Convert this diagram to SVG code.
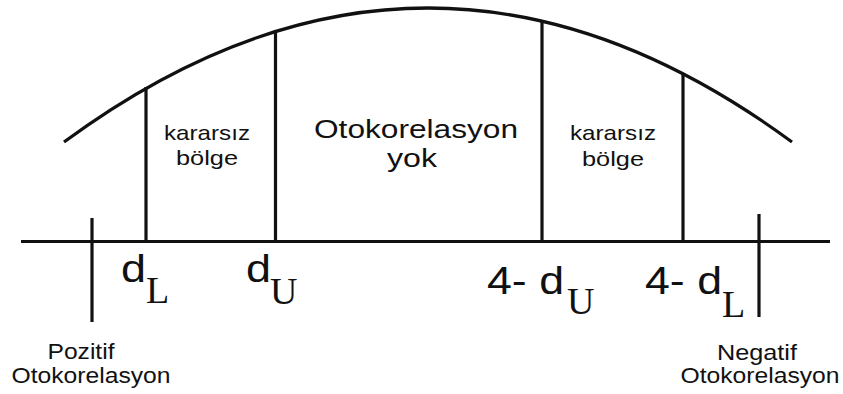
<svg xmlns="http://www.w3.org/2000/svg" width="843" height="394" viewBox="0 0 843 394">
<style>
.ln{stroke:#111;stroke-width:3.2;fill:none}
.s{font-family:"Liberation Sans",Arial,sans-serif;fill:#111}
.r{font-family:"Liberation Serif","Times New Roman",serif;fill:#111}
</style>
<rect width="843" height="394" fill="#fff"/>
<g id="connectors">
<path class="ln" d="M64,142 Q428,-126 792,142"/>
<line class="ln" x1="21" y1="241.5" x2="830" y2="241.5"/>
<line class="ln" x1="92" y1="218" x2="92" y2="322"/>
<line class="ln" x1="759" y1="214" x2="759" y2="317"/>
<line class="ln" x1="146" y1="87" x2="146" y2="241"/>
<line class="ln" x1="275.5" y1="31" x2="275.5" y2="241"/>
<line class="ln" x1="542" y1="22" x2="542" y2="241"/>
<line class="ln" x1="683" y1="74" x2="683" y2="241"/>
</g>
<g id="region-left">
<text class="s" x="207" y="140" font-size="21" text-anchor="middle" textLength="86" lengthAdjust="spacingAndGlyphs">kararsız</text>
<text class="s" x="207" y="165" font-size="21" text-anchor="middle" textLength="62" lengthAdjust="spacingAndGlyphs">bölge</text>
</g>
<g id="region-mid">
<text class="s" x="416" y="138" font-size="25" text-anchor="middle" textLength="204" lengthAdjust="spacingAndGlyphs">Otokorelasyon</text>
<text class="s" x="412" y="167" font-size="25" text-anchor="middle" textLength="50" lengthAdjust="spacingAndGlyphs">yok</text>
</g>
<g id="region-right">
<text class="s" x="613" y="140" font-size="21" text-anchor="middle" textLength="86" lengthAdjust="spacingAndGlyphs">kararsız</text>
<text class="s" x="613" y="166" font-size="21" text-anchor="middle" textLength="62" lengthAdjust="spacingAndGlyphs">bölge</text>
</g>
<g id="label-dL">
<text class="s" x="121" y="282" font-size="39" textLength="25" lengthAdjust="spacingAndGlyphs">d</text>
<text class="r" x="146" y="303" font-size="38">L</text>
</g>
<g id="label-dU">
<text class="s" x="246" y="282" font-size="39" textLength="25" lengthAdjust="spacingAndGlyphs">d</text>
<text class="r" x="270" y="304" font-size="38">U</text>
</g>
<g id="label-4dU">
<text class="s" x="487" y="294" font-size="39" textLength="77" lengthAdjust="spacingAndGlyphs">4- d</text>
<text class="r" x="567" y="314" font-size="38">U</text>
</g>
<g id="label-4dL">
<text class="s" x="645" y="294" font-size="39" textLength="77" lengthAdjust="spacingAndGlyphs">4- d</text>
<text class="r" x="722" y="317" font-size="38">L</text>
</g>
<g id="pozitif">
<text class="s" x="81" y="359" font-size="22" text-anchor="middle" textLength="67" lengthAdjust="spacingAndGlyphs">Pozitif</text>
<text class="s" x="91" y="383" font-size="22" text-anchor="middle" textLength="159" lengthAdjust="spacingAndGlyphs">Otokorelasyon</text>
</g>
<g id="negatif">
<text class="s" x="757" y="360" font-size="22" text-anchor="middle" textLength="80" lengthAdjust="spacingAndGlyphs">Negatif</text>
<text class="s" x="760" y="383" font-size="22" text-anchor="middle" textLength="159" lengthAdjust="spacingAndGlyphs">Otokorelasyon</text>
</g>
</svg>
